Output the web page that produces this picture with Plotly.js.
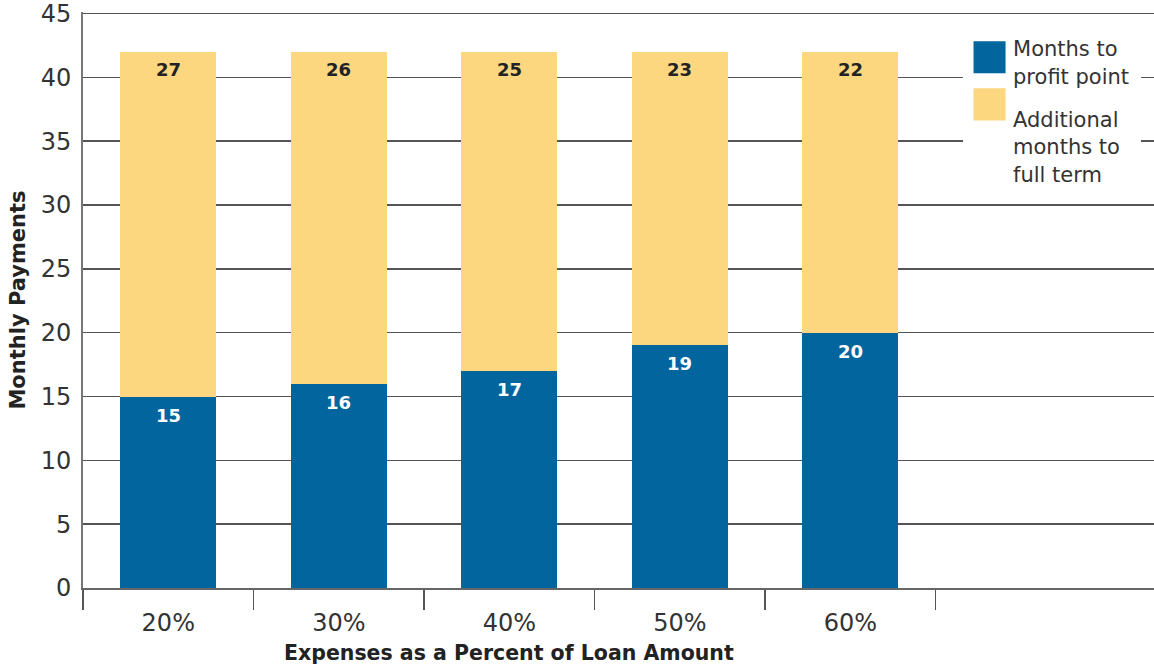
<!DOCTYPE html>
<html>
<head>
<meta charset="utf-8">
<script src="https://cdn.plot.ly/plotly-3.0.1.min.js"></script>
<style>
  html, body { margin: 0; padding: 0; background: #fff; }
  #chart { width: 1154px; height: 668px; }
  /* larger square swatches in the legend, each set beside its own entry */
  #chart .legend .groups:nth-child(1) .legendpoints path { transform: translate(26.5px, 9px) scale(2.67); }
  #chart .legend .groups:nth-child(2) .legendpoints path { transform: translate(26.5px, -14.5px) scale(2.67); }
</style>
</head>
<body>
<div id="chart"></div>
<script>
// Expense level as a share of the loan amount
const categories = ['20%', '30%', '40%', '50%', '60%'];
// Monthly payments until the loan turns a profit
const monthsToProfit = [15, 16, 17, 19, 20];
// Remaining monthly payments until the full term
const additionalMonths = [27, 26, 25, 23, 22];

const seriesNames = ['Months to<br>profit point&nbsp;', 'Additional<br>months to<br>full term'];
const blue = '#02659e';
const yellow = '#fdd680';

const traces = [
  {
    type: 'bar', name: seriesNames[0], legendgroup: 'profit', x: categories, y: monthsToProfit,
    marker: { color: blue }, hoverinfo: 'x+y'
  },
  {
    type: 'bar', name: seriesNames[1], legendgroup: 'term', x: categories, y: additionalMonths,
    marker: { color: yellow }, hoverinfo: 'x+y'
  }
];

// value labels, placed just under the top of each segment
const annotations = [];
categories.forEach((c, i) => {
  annotations.push({
    x: c, y: monthsToProfit[i], xref: 'x', yref: 'y',
    text: String(monthsToProfit[i]), showarrow: false,
    yanchor: 'top', yshift: -6,
    font: { family: 'DejaVu Sans', size: 18, color: '#ffffff', weight: 'bold' }
  });
  annotations.push({
    x: c, y: monthsToProfit[i] + additionalMonths[i], xref: 'x', yref: 'y',
    text: String(additionalMonths[i]), showarrow: false,
    yanchor: 'top', yshift: -5,
    font: { family: 'DejaVu Sans', size: 18, color: '#222222', weight: 'bold' }
  });
});

// x-axis title, centred under the five categories
annotations.push({
  x: (categories.length - 1) / 2, xref: 'x', y: -0.112, yref: 'paper',
  yanchor: 'middle', xanchor: 'center', showarrow: false,
  text: 'Expenses as a Percent of Loan Amount',
  font: { family: 'DejaVu Sans', size: 20.5, color: '#222222', weight: 'bold' }
});

const layout = {
  width: 1154, height: 668,
  margin: { l: 83, r: 0, t: 11.5, b: 80, autoexpand: false },
  paper_bgcolor: '#ffffff', plot_bgcolor: '#ffffff',
  barmode: 'stack', bargap: 0.437,
  showlegend: true,
  legend: {
    x: 0.8217, xanchor: 'left', y: 0.972, yanchor: 'top',
    bgcolor: '#ffffff', borderwidth: 0,
    traceorder: 'grouped', valign: 'top',
    itemwidth: 40, tracegroupgap: 13,
    font: { family: 'DejaVu Sans', size: 21, color: '#333333' }
  },
  font: { family: 'DejaVu Sans', color: '#333333' },
  xaxis: {
    type: 'category', range: [-0.5, 5.78],
    tickson: 'boundaries', ticks: 'outside', ticklen: 20, tickwidth: 1.5, tickcolor: '#555555',
    ticklabelstandoff: 12,
    showline: true, linecolor: '#666666', linewidth: 2,
    showgrid: false, zeroline: false,
    tickfont: { family: 'DejaVu Sans', size: 24, color: '#333333' }
  },
  yaxis: {
    range: [0, 45.12], tickmode: 'linear', dtick: 5, tick0: 0,
    ticks: '', ticklabelstandoff: 5, ticklabeloverflow: 'allow',
    showgrid: true, gridcolor: '#555555', gridwidth: 1.5,
    showline: true, linecolor: '#777777', linewidth: 2,
    zeroline: false,
    tickfont: { family: 'DejaVu Sans', size: 24, color: '#333333' },
    title: {
      text: 'Monthly Payments', standoff: 9,
      font: { family: 'DejaVu Sans', size: 21, color: '#222222', weight: 'bold' }
    }
  },
  annotations: annotations
};

Plotly.newPlot('chart', traces, layout, { displayModeBar: false, staticPlot: true });
</script>
</body>
</html>
